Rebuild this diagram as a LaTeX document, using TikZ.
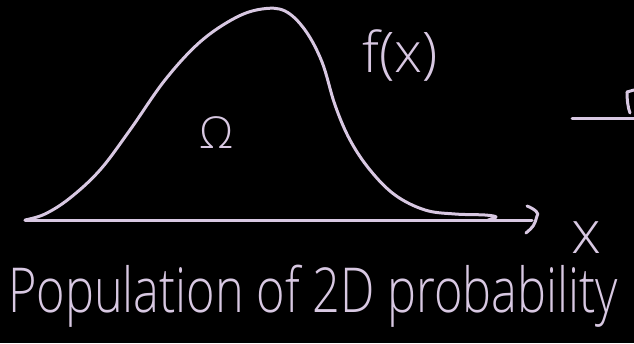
\documentclass[tikz,border=0pt]{standalone}
\usepackage{fontspec}
\setmainfont{Open Sans Light}[BoldFont=Open Sans]
\begin{document}
\begin{tikzpicture}[x=1pt,y=-1pt,
  ink/.style={draw=lav,line width=3pt,line cap=round,line join=round},
  lbl/.style={text=lav,inner sep=0pt,anchor=center}]
\definecolor{lav}{RGB}{216,200,226}
\fill[black] (0,0) rectangle (634,343);
\useasboundingbox (0,0) rectangle (634,343);
% axis
\coordinate (o) at (25,220);
\coordinate (e) at (532,220);
\draw[ink] (o) -- (e);
\coordinate (a1) at (527,206);
\coordinate (a2) at (537,216);
\coordinate (a3) at (526,233);
\draw[ink] (a1) .. controls (535,209) and (540,214) .. (a2) .. controls (534,226) .. (a3);
% bell curve
\draw[ink] plot[smooth,tension=0.6] coordinates {(25,220) (45,214) (70,198) (100,170) (130,130) (165,80) (200,42) (235,18) (262,9) (285,11) (305,30) (322,62) (335,105) (350,140) (370,170) (395,195) (425,210) (455,214) (485,215) (496,217) (488,220)};
% labels
\node[lbl,font=\fontsize{60}{60}\selectfont] (xl) at (586,238) {x};
\node[lbl,font=\fontsize{56}{56}\selectfont] (fx) at (400,56) {f(x)};
\node[lbl,font=\fontsize{44}{44}\selectfont] (om) at (217,133) {Ω};
\node[lbl,font=\fontsize{62}{62}\selectfont,anchor=base west] (pop) at (8,312) {\scalebox{0.785}[1]{Population of 2D probability}};
% right fragment
\coordinate (r1) at (572,118);
\coordinate (r2) at (634,118);
\draw[ink] (r1) -- (r2);
\coordinate (g1) at (627,92);
\coordinate (g2) at (630,113);
\draw[ink] (g1) .. controls (627,100) and (628,108) .. (g2);
\coordinate (g3) at (634,90);
\draw[ink] (g1) -- (g3);
\end{tikzpicture}
\end{document}
